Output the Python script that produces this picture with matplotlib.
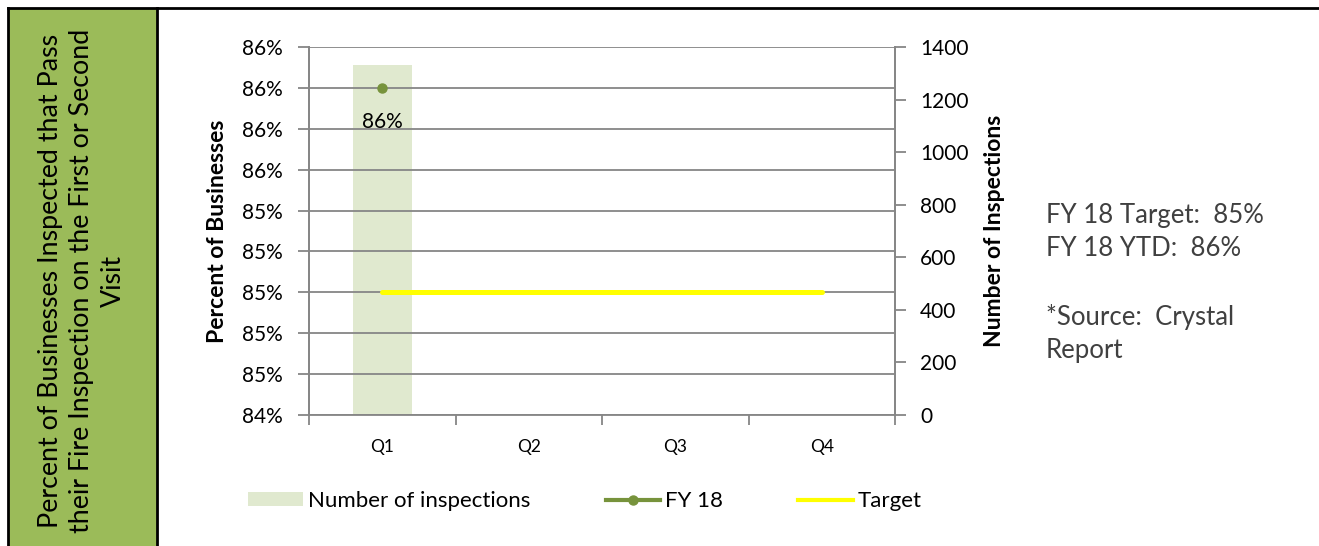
import numpy as np
import matplotlib
matplotlib.use("Agg")
import matplotlib.pyplot as plt
from matplotlib.patches import Rectangle
from matplotlib.lines import Line2D
from matplotlib.ticker import FuncFormatter, FixedLocator

# ---- data ----
quarters = ["Q1", "Q2", "Q3", "Q4"]
inspections = [1330, np.nan, np.nan, np.nan]
fy18 = [0.86, np.nan, np.nan, np.nan]
target = [0.85, 0.85, 0.85, 0.85]
pct_ticks = [0.844, 0.846, 0.848, 0.850, 0.852, 0.854, 0.856, 0.858, 0.860, 0.862]
count_ticks = [0, 200, 400, 600, 800, 1000, 1200, 1400]
panel_title = "Percent of Businesses Inspected that Pass\ntheir Fire Inspection on the First or Second\nVisit"
side_lines = ["FY 18 Target:  85%", "FY 18 YTD:  86%", "", "*Source:  Crystal", "Report"]

plt.rcParams['font.family'] = ['Lato', 'DejaVu Sans']

W, H = 1319, 546
fig = plt.figure(figsize=(W / 100, H / 100), dpi=100)

def fx(px):
    return px / W

def fy(py):
    return 1 - py / H

# ---- left green panel and borders ----
fig.patches.append(Rectangle((fx(8), 0), fx(157) - fx(8), fy(8), transform=fig.transFigure,
                             facecolor="#9BBB59", edgecolor="none", zorder=0))
fig.add_artist(Line2D([fx(8), 1], [fy(8), fy(8)], transform=fig.transFigure, color="black", lw=2))
fig.add_artist(Line2D([fx(8), fx(8)], [0, fy(8)], transform=fig.transFigure, color="black", lw=2))
fig.add_artist(Line2D([fx(157), fx(157)], [0, fy(8)], transform=fig.transFigure, color="black", lw=2))
fig.text(fx(82), fy(281), panel_title, rotation=90, ha="center", va="center",
         fontsize=19.3, color="black", linespacing=1.3, multialignment="center")

# ---- axes ----
x0, x1, ytop, ybot = 309, 895, 47, 415
ax = fig.add_axes([fx(x0), fy(ybot), fx(x1) - fx(x0), fy(ytop) - fy(ybot)])
axp = ax.twinx()

x = np.arange(len(quarters))
grid_col = "#868686"

# bars on count axis (right side)
ax.bar(x, inspections, width=0.4, color="#E0E9CF", zorder=1)
ax.set_ylim(0, 1400)
ax.set_xlim(-0.5, 3.5)
ax.yaxis.tick_right()
ax.yaxis.set_label_position("right")
ax.set_yticks(count_ticks)
ax.tick_params(axis="y", direction="out", length=8, width=1.3, color=grid_col,
               labelsize=15, pad=10, labelcolor="black")
ax.set_ylabel("Number of Inspections", fontsize=16.5, fontweight="bold", labelpad=11)

# percent axis (left side)
axp.yaxis.tick_left()
axp.yaxis.set_label_position("left")
axp.set_ylim(0.844, 0.862)
axp.yaxis.set_major_locator(FixedLocator(pct_ticks))
axp.yaxis.set_major_formatter(FuncFormatter(lambda v, p: f"{v*100:.0f}%"))
axp.tick_params(axis="y", direction="out", length=8, width=1.3, color=grid_col,
                labelsize=15, pad=11, labelcolor="black")
axp.set_ylabel("Percent of Businesses", fontsize=16.5, fontweight="bold", labelpad=10)
axp.grid(axis="y", color=grid_col, lw=1.3, zorder=2)
axp.set_axisbelow(False)

axp.plot(x, target, color="#FFFF00", lw=3.6, solid_capstyle="round", zorder=3, label="Target")
axp.plot(x, fy18, color="#77933C", lw=3, marker="o", ms=6.5, zorder=4, label="FY 18")
for xi, v in zip(x, fy18):
    if not np.isnan(v):
        axp.annotate(f"{v*100:.0f}%", (xi, v), xytext=(0, -17), textcoords="offset points",
                     ha="center", va="top", fontsize=15)

# x axis
ax.set_xticks(x)
ax.set_xticklabels(quarters, fontsize=12.5)
ax.tick_params(axis="x", length=0, pad=17)
ax.set_xticks(np.arange(-0.5, 4.0, 1.0), minor=True)
ax.tick_params(axis="x", which="minor", direction="out", length=7, width=1.3, color=grid_col)
axp.tick_params(axis="x", length=0)

for a in (ax, axp):
    a.spines["top"].set_visible(False)
    for s in ("left", "right", "bottom"):
        a.spines[s].set_color(grid_col)
        a.spines[s].set_linewidth(1.3)
axp.spines["bottom"].set_visible(False)

# ---- legend ----
handles = [Rectangle((0, 0), 1, 1, facecolor="#E0E9CF", edgecolor="none"),
           Line2D([], [], color="#77933C", lw=3, marker="o", ms=6.5),
           Line2D([], [], color="#FFFF00", lw=3)]
labels = ["Number of inspections", "FY 18", "Target"]
fig.legend(handles, labels, loc="center", bbox_to_anchor=(fx(585), fy(501)), ncol=3,
           frameon=False, fontsize=16, handlelength=2.45, handleheight=0.6,
           handletextpad=0.22, columnspacing=3.4)

# ---- side text ----
fig.text(fx(1046), fy(283), "\n".join(side_lines), ha="left", va="center",
         fontsize=18.5, color="#404040", linespacing=1.43)

fig.savefig("out.png", dpi=100)
